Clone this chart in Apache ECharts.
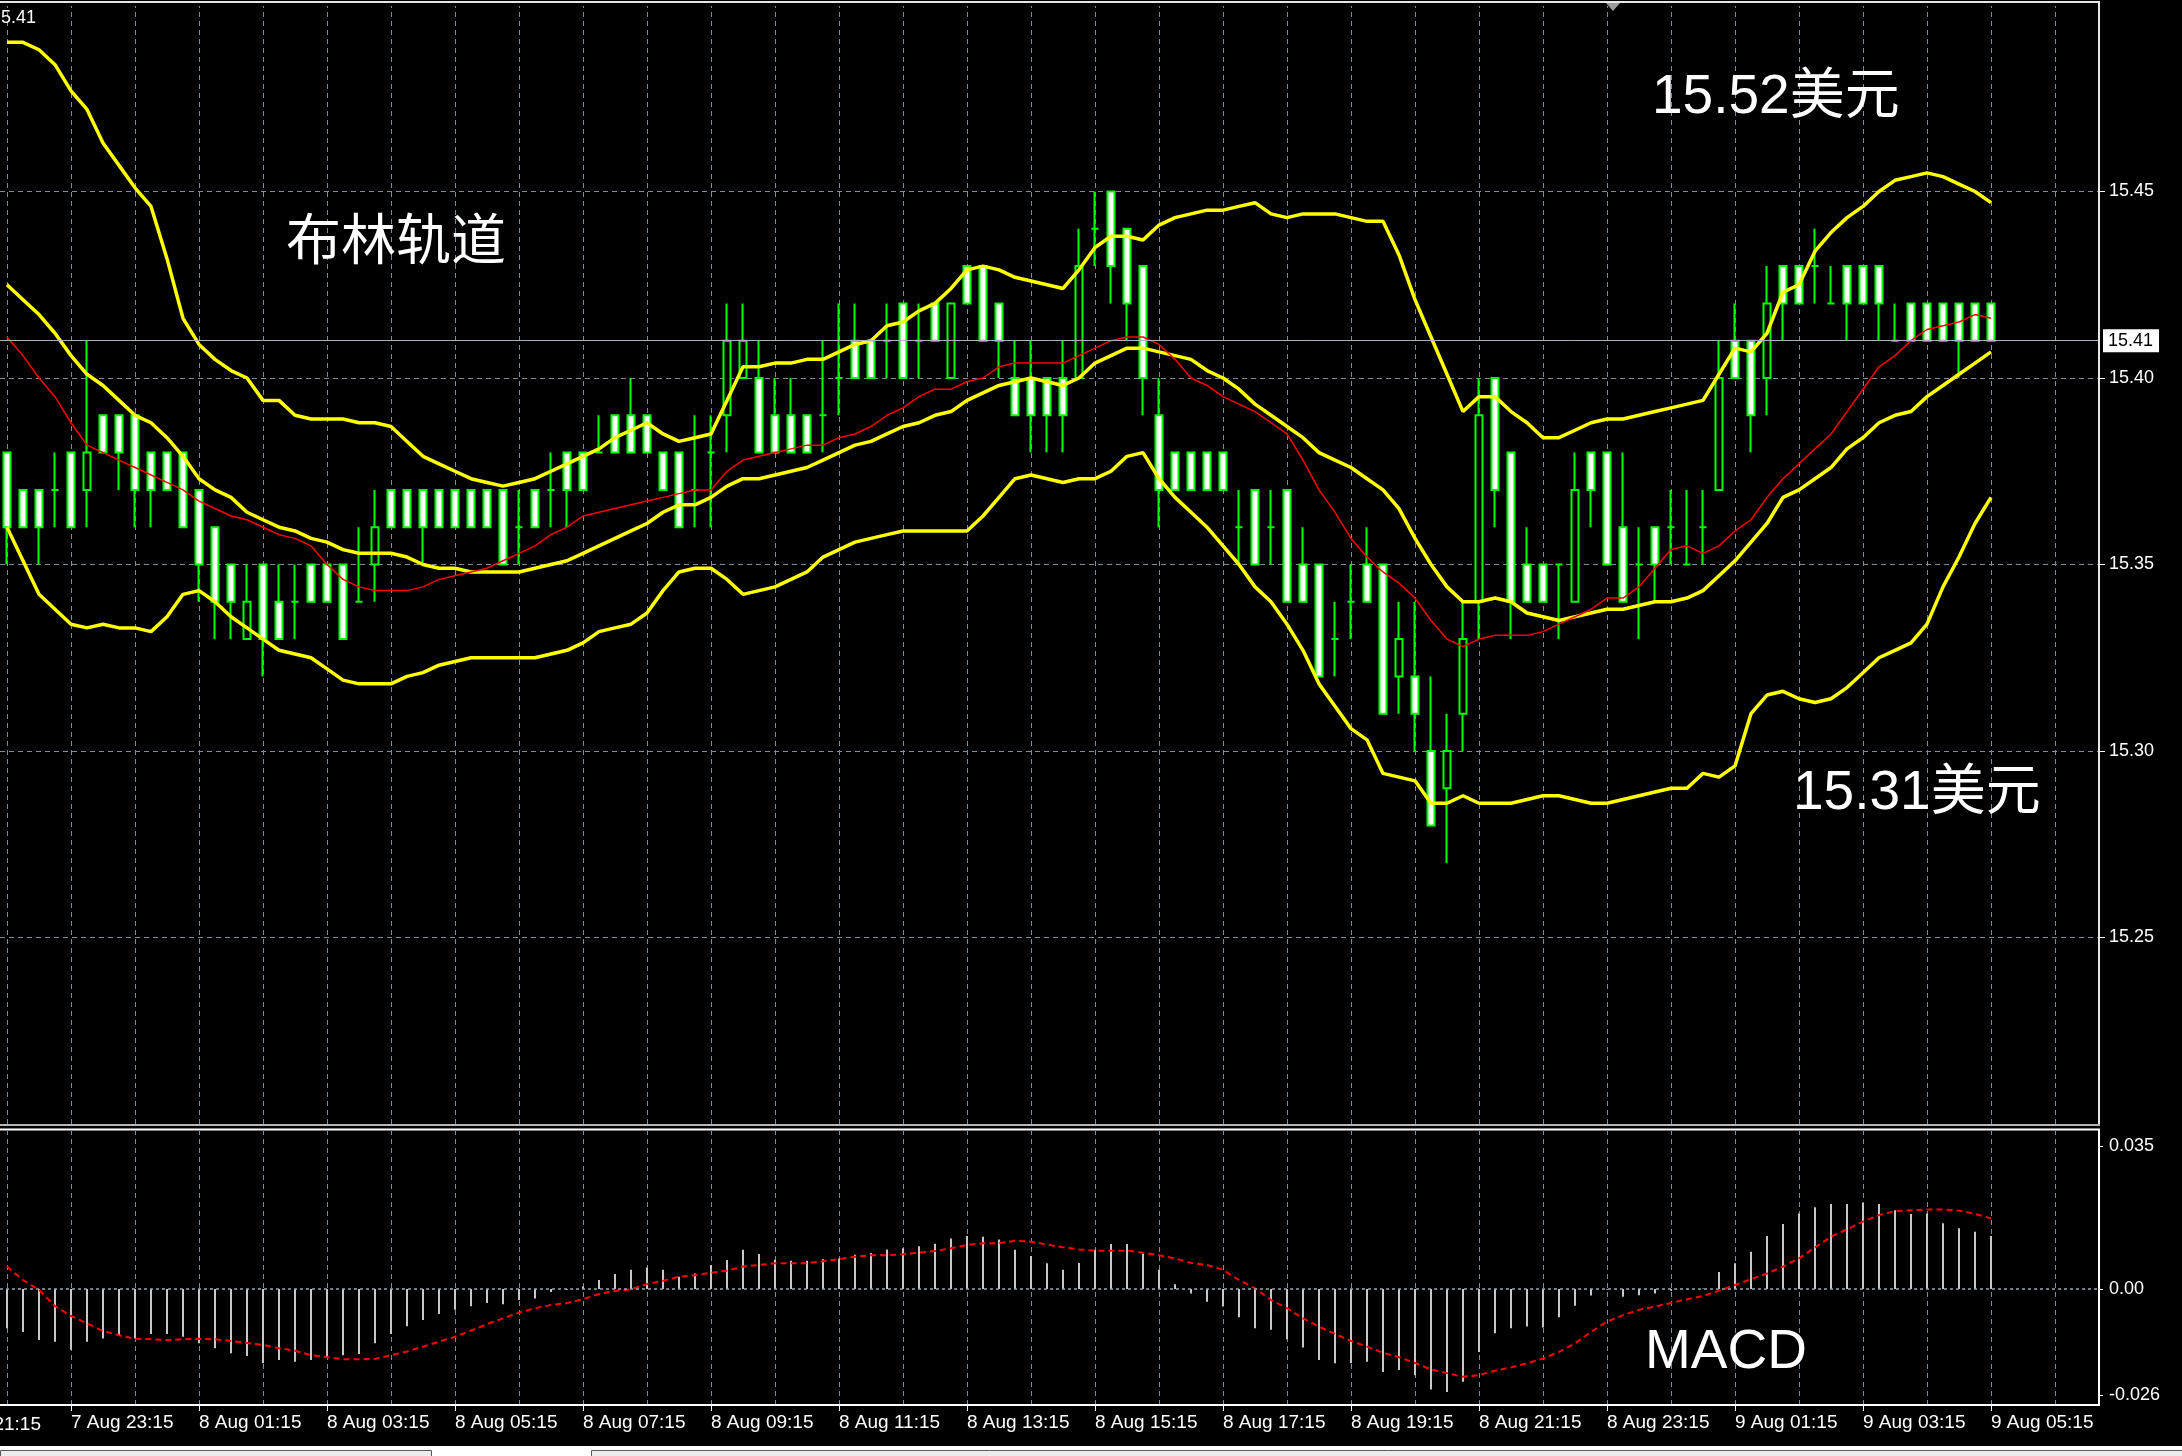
<!DOCTYPE html>
<html><head><meta charset="utf-8">
<script src="https://cdn.jsdelivr.net/npm/echarts@6/dist/echarts.min.js"></script>
<style>html,body{margin:0;padding:0;background:#000;overflow:hidden}#c{width:2182px;height:1456px}</style>
</head><body><div id="c"></div>
<script>
// ---- time axis (M15 bars, index 0 = 7 Aug 22:15) ----
const tickIdx = [4,12,20,28,36,44,52,60,68,76,84,92,100,108,116,124];
const tickLabels = ['7 Aug 23:15','8 Aug 01:15','8 Aug 03:15','8 Aug 05:15','8 Aug 07:15','8 Aug 09:15','8 Aug 11:15','8 Aug 13:15','8 Aug 15:15','8 Aug 17:15','8 Aug 19:15','8 Aug 21:15','8 Aug 23:15','9 Aug 01:15','9 Aug 03:15','9 Aug 05:15'];
const cutLabel = '21:15';           // tail of '7 Aug 21:15', cut by the left edge
const hourIdx = [0,4,8,12,16,20,24,28,32,36,40,44,48,52,56,60,64,68,72,76,80,84,88,92,96,100,104,108,112,116,120,124,128];
const priceTicks = [15.25,15.30,15.35,15.40,15.45];
const macdTicks = [0.035,0,-0.026];
const lastPrice = 15.41;

// ---- candles ----
const openP = [15.38,15.37,15.37,15.37,15.38,15.37,15.39,15.39,15.39,15.38,
15.38,15.38,15.37,15.36,15.35,15.33,15.35,15.34,15.34,15.35,
15.35,15.35,15.34,15.35,15.37,15.37,15.37,15.37,15.37,15.37,
15.37,15.37,15.36,15.37,15.37,15.38,15.38,15.38,15.39,15.39,
15.39,15.38,15.38,15.37,15.38,15.39,15.40,15.40,15.39,15.39,
15.39,15.39,15.40,15.41,15.41,15.41,15.42,15.41,15.42,15.40,
15.43,15.43,15.42,15.40,15.40,15.40,15.40,15.40,15.44,15.45,
15.44,15.43,15.39,15.38,15.38,15.38,15.38,15.36,15.37,15.36,
15.37,15.35,15.35,15.33,15.34,15.35,15.35,15.32,15.32,15.30,
15.29,15.31,15.34,15.40,15.38,15.35,15.35,15.35,15.34,15.38,
15.38,15.36,15.35,15.36,15.36,15.35,15.36,15.37,15.41,15.41,
15.40,15.43,15.43,15.43,15.42,15.43,15.43,15.43,15.41,15.42,
15.42,15.42,15.42,15.42,15.42];
const closeP = [15.36,15.36,15.36,15.37,15.36,15.38,15.38,15.38,15.37,15.37,
15.37,15.36,15.35,15.34,15.34,15.34,15.33,15.33,15.34,15.34,
15.34,15.33,15.34,15.36,15.36,15.36,15.36,15.36,15.36,15.36,
15.36,15.35,15.36,15.36,15.37,15.37,15.37,15.38,15.38,15.38,
15.38,15.37,15.36,15.37,15.38,15.41,15.41,15.38,15.38,15.38,
15.38,15.39,15.40,15.40,15.40,15.41,15.40,15.41,15.41,15.42,
15.42,15.41,15.41,15.39,15.39,15.39,15.39,15.43,15.44,15.43,
15.42,15.40,15.37,15.37,15.37,15.37,15.37,15.36,15.35,15.36,
15.34,15.34,15.32,15.33,15.34,15.34,15.31,15.33,15.31,15.28,
15.30,15.33,15.39,15.37,15.34,15.34,15.34,15.35,15.37,15.37,
15.35,15.34,15.35,15.35,15.36,15.35,15.36,15.40,15.40,15.39,
15.42,15.42,15.42,15.43,15.42,15.42,15.42,15.42,15.41,15.41,
15.41,15.41,15.41,15.41,15.41];
const lowP = [15.35,15.36,15.35,15.36,15.36,15.36,15.38,15.37,15.36,15.36,
15.37,15.36,15.34,15.33,15.33,15.33,15.32,15.33,15.33,15.34,
15.34,15.33,15.34,15.34,15.36,15.36,15.35,15.36,15.36,15.36,
15.36,15.35,15.35,15.36,15.36,15.36,15.37,15.38,15.38,15.38,
15.38,15.37,15.36,15.36,15.36,15.38,15.40,15.38,15.38,15.38,
15.38,15.38,15.39,15.40,15.40,15.40,15.40,15.40,15.41,15.40,
15.42,15.41,15.40,15.39,15.38,15.38,15.38,15.40,15.43,15.42,
15.41,15.39,15.36,15.37,15.37,15.37,15.37,15.35,15.35,15.35,
15.34,15.34,15.32,15.32,15.33,15.34,15.31,15.31,15.30,15.28,
15.27,15.30,15.33,15.36,15.33,15.34,15.34,15.33,15.34,15.36,
15.35,15.34,15.33,15.34,15.35,15.35,15.35,15.37,15.40,15.38,
15.39,15.41,15.42,15.42,15.42,15.41,15.42,15.41,15.41,15.41,
15.41,15.41,15.40,15.41,15.41];
const highP = [15.38,15.37,15.37,15.38,15.38,15.41,15.39,15.39,15.39,15.38,
15.38,15.38,15.37,15.36,15.35,15.35,15.35,15.35,15.35,15.35,
15.35,15.35,15.36,15.37,15.37,15.37,15.37,15.37,15.37,15.37,
15.37,15.37,15.37,15.37,15.38,15.38,15.38,15.39,15.39,15.40,
15.39,15.38,15.38,15.39,15.39,15.42,15.42,15.41,15.40,15.40,
15.39,15.41,15.42,15.42,15.41,15.42,15.42,15.42,15.42,15.42,
15.43,15.43,15.42,15.41,15.41,15.40,15.41,15.44,15.45,15.45,
15.44,15.43,15.40,15.38,15.38,15.38,15.38,15.37,15.37,15.37,
15.37,15.36,15.35,15.34,15.35,15.36,15.35,15.34,15.34,15.32,
15.31,15.34,15.40,15.40,15.38,15.36,15.35,15.35,15.38,15.38,
15.38,15.38,15.36,15.36,15.37,15.37,15.37,15.41,15.42,15.41,
15.43,15.43,15.43,15.44,15.43,15.43,15.43,15.43,15.42,15.42,
15.42,15.42,15.42,15.42,15.42];

// ---- Bollinger bands & red moving average ----
const bbUpper = [15.490,15.490,15.488,15.484,15.477,15.472,15.463,15.457,15.451,15.446,
15.432,15.416,15.409,15.405,15.402,15.400,15.394,15.394,15.390,15.389,
15.389,15.389,15.388,15.388,15.387,15.383,15.379,15.377,15.375,15.373,
15.372,15.371,15.372,15.373,15.375,15.377,15.379,15.381,15.384,15.386,
15.388,15.385,15.383,15.384,15.385,15.394,15.403,15.403,15.404,15.404,
15.405,15.405,15.407,15.409,15.410,15.414,15.415,15.418,15.420,15.424,
15.429,15.430,15.429,15.427,15.426,15.425,15.424,15.429,15.435,15.438,
15.438,15.437,15.441,15.443,15.444,15.445,15.445,15.446,15.447,15.444,
15.443,15.444,15.444,15.444,15.443,15.442,15.442,15.433,15.421,15.411,
15.401,15.391,15.395,15.395,15.391,15.388,15.384,15.384,15.386,15.388,
15.389,15.389,15.390,15.391,15.392,15.393,15.394,15.401,15.408,15.407,
15.412,15.423,15.425,15.434,15.439,15.443,15.446,15.450,15.453,15.454,
15.455,15.454,15.452,15.450,15.447];
const bbMiddle = [15.425,15.421,15.417,15.412,15.406,15.401,15.398,15.394,15.390,15.388,
15.384,15.379,15.373,15.370,15.368,15.364,15.362,15.360,15.359,15.357,
15.356,15.354,15.353,15.353,15.353,15.352,15.350,15.349,15.349,15.348,
15.348,15.348,15.348,15.349,15.350,15.351,15.353,15.355,15.357,15.359,
15.361,15.364,15.366,15.366,15.368,15.371,15.373,15.373,15.374,15.375,
15.376,15.378,15.380,15.382,15.383,15.385,15.387,15.388,15.390,15.391,
15.394,15.396,15.398,15.399,15.400,15.399,15.398,15.400,15.404,15.406,
15.408,15.408,15.407,15.406,15.405,15.402,15.400,15.397,15.393,15.390,
15.387,15.384,15.380,15.378,15.376,15.373,15.370,15.365,15.357,15.350,
15.344,15.340,15.340,15.341,15.340,15.337,15.336,15.335,15.336,15.337,
15.338,15.338,15.339,15.340,15.340,15.341,15.343,15.347,15.351,15.356,
15.361,15.368,15.370,15.373,15.376,15.381,15.384,15.388,15.390,15.391,
15.395,15.398,15.401,15.404,15.407];
const bbLower = [15.360,15.351,15.342,15.338,15.334,15.333,15.334,15.333,15.333,15.332,
15.336,15.342,15.343,15.340,15.336,15.333,15.330,15.327,15.326,15.325,
15.322,15.319,15.318,15.318,15.318,15.320,15.321,15.323,15.324,15.325,
15.325,15.325,15.325,15.325,15.326,15.327,15.329,15.332,15.333,15.334,
15.337,15.343,15.348,15.349,15.349,15.346,15.342,15.343,15.344,15.346,
15.348,15.352,15.354,15.356,15.357,15.358,15.359,15.359,15.359,15.359,
15.359,15.363,15.368,15.373,15.374,15.373,15.372,15.373,15.373,15.375,
15.379,15.380,15.373,15.368,15.364,15.360,15.355,15.350,15.344,15.340,
15.334,15.327,15.318,15.312,15.306,15.303,15.294,15.293,15.292,15.286,
15.286,15.288,15.286,15.286,15.286,15.287,15.288,15.288,15.287,15.286,
15.286,15.287,15.288,15.289,15.290,15.290,15.294,15.293,15.296,15.310,
15.315,15.316,15.314,15.313,15.314,15.317,15.321,15.325,15.327,15.329,
15.334,15.344,15.352,15.361,15.368];
const maRed = [15.411,15.406,15.400,15.395,15.388,15.382,15.380,15.378,15.376,15.374,
15.372,15.370,15.367,15.365,15.363,15.362,15.360,15.358,15.357,15.355,
15.350,15.346,15.344,15.343,15.343,15.343,15.344,15.346,15.347,15.348,
15.349,15.351,15.353,15.355,15.358,15.360,15.363,15.364,15.365,15.366,
15.367,15.368,15.369,15.370,15.370,15.375,15.378,15.379,15.380,15.381,
15.382,15.382,15.384,15.385,15.387,15.390,15.392,15.395,15.397,15.397,
15.399,15.400,15.403,15.404,15.404,15.404,15.404,15.406,15.408,15.410,
15.411,15.411,15.409,15.405,15.400,15.398,15.395,15.393,15.391,15.388,
15.385,15.378,15.370,15.364,15.357,15.352,15.348,15.345,15.341,15.335,
15.330,15.328,15.330,15.331,15.331,15.331,15.332,15.334,15.336,15.338,
15.341,15.341,15.344,15.349,15.354,15.355,15.353,15.355,15.359,15.362,
15.368,15.373,15.377,15.381,15.385,15.391,15.397,15.403,15.406,15.410,
15.413,15.414,15.415,15.417,15.416];

// ---- MACD ----
const macdHist = [-0.0096,-0.0105,-0.0125,-0.0129,-0.0149,-0.0129,-0.0121,-0.0113,-0.0121,-0.0110,
-0.0110,-0.0117,-0.0133,-0.0145,-0.0157,-0.0164,-0.0182,-0.0174,-0.0178,-0.0174,
-0.0166,-0.0162,-0.0159,-0.0133,-0.0110,-0.0091,-0.0076,-0.0061,-0.0051,-0.0042,
-0.0034,-0.0037,-0.0027,-0.0023,-0.0007,-0.0002,0.0006,0.0022,0.0037,0.0047,
0.0053,0.0047,0.0030,0.0038,0.0059,0.0071,0.0096,0.0086,0.0072,0.0069,
0.0069,0.0073,0.0075,0.0084,0.0088,0.0097,0.0100,0.0105,0.0111,0.0124,
0.0130,0.0128,0.0121,0.0096,0.0081,0.0063,0.0047,0.0064,0.0096,0.0110,
0.0110,0.0087,0.0047,0.0012,-0.0011,-0.0031,-0.0043,-0.0069,-0.0096,-0.0100,
-0.0123,-0.0143,-0.0174,-0.0182,-0.0182,-0.0178,-0.0203,-0.0198,-0.0211,-0.0246,
-0.0252,-0.0227,-0.0154,-0.0108,-0.0096,-0.0092,-0.0094,-0.0069,-0.0041,-0.0016,
-0.0002,-0.0019,-0.0015,-0.0011,-0.0004,-0.0001,0.0001,0.0042,0.0063,0.0091,
0.0130,0.0159,0.0185,0.0200,0.0208,0.0208,0.0211,0.0208,0.0193,0.0184,
0.0185,0.0161,0.0149,0.0140,0.0130];
const macdSignal = [0.0055,0.0022,-0.0002,-0.0042,-0.0066,-0.0084,-0.0103,-0.0113,-0.0122,-0.0123,
-0.0125,-0.0123,-0.0122,-0.0123,-0.0127,-0.0132,-0.0137,-0.0145,-0.0151,-0.0162,
-0.0167,-0.0172,-0.0172,-0.0171,-0.0162,-0.0153,-0.0141,-0.0129,-0.0117,-0.0102,
-0.0086,-0.0072,-0.0058,-0.0047,-0.0039,-0.0034,-0.0025,-0.0012,-0.0005,-0.0001,
0.0012,0.0020,0.0030,0.0034,0.0040,0.0045,0.0055,0.0059,0.0063,0.0063,
0.0063,0.0068,0.0073,0.0079,0.0083,0.0083,0.0085,0.0089,0.0093,0.0100,
0.0108,0.0112,0.0112,0.0118,0.0116,0.0109,0.0102,0.0097,0.0094,0.0094,
0.0094,0.0089,0.0083,0.0075,0.0064,0.0059,0.0047,0.0022,0.0002,-0.0027,
-0.0047,-0.0072,-0.0092,-0.0110,-0.0127,-0.0141,-0.0156,-0.0167,-0.0181,-0.0197,
-0.0206,-0.0215,-0.0211,-0.0200,-0.0192,-0.0182,-0.0170,-0.0154,-0.0133,-0.0105,
-0.0080,-0.0064,-0.0051,-0.0043,-0.0034,-0.0025,-0.0017,-0.0004,0.0010,0.0024,
0.0038,0.0055,0.0075,0.0102,0.0128,0.0146,0.0165,0.0181,0.0191,0.0193,
0.0195,0.0195,0.0192,0.0184,0.0173];

// ---- annotation texts ----
const noteBands = '布林轨道';
const noteHigh = '15.52美元';
const noteLow = '15.31美元';
const noteMacd = 'MACD';
const cornerText = '5.41';

const chart = echarts.init(document.getElementById('c'), null, {renderer:'canvas'});
const candles = openP.map((o,i)=>[i,o,closeP[i],lowP[i],highP[i]]);
const pair = arr => arr.map((v,i)=>[i,v]);
const FONT = "'Liberation Sans', Arial, sans-serif";
const GRID = '#7f8d9b';
const X_MIN = -0.4375, X_MAX = 130.75;
const xBase = {type:'value', min:X_MIN, max:X_MAX, axisLine:{show:false, onZero:false}, splitLine:{show:false}};
const yLabel = {color:'#ffffff', fontSize:18, fontFamily:FONT, margin:10};
const txt = (text, x, y, size, fam, align) => ({type:'text', x:x, y:y, z:200, silent:true,
  style:{text:text, fill:'#ffffff', font: size+'px '+fam, align:align||'left', verticalAlign:'middle', textAlign:align||'left', textVerticalAlign:'middle'}});
const ln = (x1,y1,x2,y2,c,w) => ({type:'line', z:150, silent:true, shape:{x1,y1,x2,y2}, style:{stroke:c, lineWidth:w}});
const vGrid = {silent:true, z:1, symbol:['none','none'], animation:false,
  data: hourIdx.map(v=>({xAxis:v})), lineStyle:{color:GRID, type:[5,4], width:1}, label:{show:false}};

chart.setOption({
  backgroundColor:'#000000',
  animation:false,
  grid:[{left:0, right:83, top:5, height:1119},{left:0, right:83, top:1131, height:274}],
  xAxis:[
    Object.assign({}, xBase, {gridIndex:0, axisTick:{show:false}, axisLabel:{show:false}}),
    Object.assign({}, xBase, {gridIndex:1,
      axisTick:{show:true, customValues:tickIdx, length:6, lineStyle:{color:'#ffffff', width:1}},
      axisLabel:{show:true, customValues:tickIdx,
        formatter:v=>{const k=tickIdx.indexOf(Math.round(v)); return k<0?'':tickLabels[k];},
        color:'#ffffff', fontSize:19, fontFamily:FONT, align:'left', margin:8}})
  ],
  yAxis:[
    {type:'value', gridIndex:0, position:'right', min:15.20, max:15.50, interval:0.05,
     axisLine:{show:false, onZero:false},
     axisTick:{show:true, customValues:priceTicks, length:6, lineStyle:{color:'#ffffff'}},
     axisLabel:Object.assign({customValues:priceTicks, formatter:v=>v.toFixed(2)}, yLabel),
     splitLine:{show:true, lineStyle:{color:GRID, type:[5,4], width:1}}},
    {type:'value', gridIndex:1, position:'right', min:-0.0284, max:0.0387,
     axisLine:{show:false, onZero:false},
     axisTick:{show:true, customValues:macdTicks, length:4, lineStyle:{color:'#ffffff'}},
     axisLabel:Object.assign({customValues:macdTicks, formatter:v=> v===0?'0.00':String(v)}, yLabel),
     splitLine:{show:false}}
  ],
  series:[
    {type:'line', xAxisIndex:0, yAxisIndex:0, data:[], z:1, markLine:vGrid},
    {type:'line', xAxisIndex:1, yAxisIndex:1, data:[], z:1, markLine:vGrid},
    {type:'candlestick', xAxisIndex:0, yAxisIndex:0, data:candles, barWidth:8,
     itemStyle:{color:'#000000', color0:'#ffffff', borderColor:'#00ff00', borderColor0:'#00ff00', borderColorDoji:'#00ff00', borderWidth:2},
     markLine:{silent:true, symbol:['none','none'], animation:false,
       data:[{yAxis:lastPrice}],
       lineStyle:{color:'#a9b2bc', type:'solid', width:1},
       label:{show:true, position:'end', distance:4, formatter:()=>lastPrice.toFixed(2),
         backgroundColor:'#ffffff', color:'#000000', padding:[3,6,2,5], fontSize:18, fontFamily:FONT}}},
    {type:'line', xAxisIndex:0, yAxisIndex:0, data:pair(bbUpper), symbol:'none', lineStyle:{color:'#ffff00', width:3.5}},
    {type:'line', xAxisIndex:0, yAxisIndex:0, data:pair(bbMiddle), symbol:'none', lineStyle:{color:'#ffff00', width:3.5}},
    {type:'line', xAxisIndex:0, yAxisIndex:0, data:pair(bbLower), symbol:'none', lineStyle:{color:'#ffff00', width:3.5}},
    {type:'line', xAxisIndex:0, yAxisIndex:0, data:pair(maRed), symbol:'none', lineStyle:{color:'#ff0000', width:1.5}},
    {type:'bar', xAxisIndex:1, yAxisIndex:1, data:pair(macdHist), barWidth:2, itemStyle:{color:'#c8c8c8'},
     markLine:{silent:true, symbol:['none','none'], animation:false, data:[{yAxis:0}],
       lineStyle:{color:'#9ba7b3', type:[3,3], width:1.5}, label:{show:false}}},
    {type:'line', xAxisIndex:1, yAxisIndex:1, data:pair(macdSignal), symbol:'none', lineStyle:{color:'#ff0000', width:2, type:[6,4]}}
  ],
  graphic:{elements:[
    ln(0,5,2097,5,'#000000',2),
    ln(0,2,2100,2,'#e6e6e6',2),
    ln(2099,1,2099,1125,'#e6e6e6',2),
    ln(0,1125,2100,1125,'#b4b4b4',2),
    ln(0,1129.5,2100,1129.5,'#ffffff',2),
    ln(2099,1129,2099,1406,'#ffffff',2),
    ln(0,1405,2100,1405,'#ffffff',2),
    {type:'polygon', z:150, silent:true, shape:{points:[[1606,3],[1620,3],[1613,11]]}, style:{fill:'#9a9a9a'}},
    {type:'rect', z:150, silent:true, shape:{x:0,y:1446,width:2182,height:10}, style:{fill:'#ffffff'}},
    {type:'rect', z:151, silent:true, shape:{x:0.5,y:1450.5,width:431,height:8}, style:{fill:'#ececec', stroke:'#5a5a5a', lineWidth:1}},
    {type:'rect', z:151, silent:true, shape:{x:591.5,y:1450.5,width:1600,height:8}, style:{fill:'#ececec', stroke:'#5a5a5a', lineWidth:1}},
    txt(cornerText, 1, 18, 18, FONT),
    txt(cutLabel, 41, 1425, 19, FONT, 'right'),
    txt(noteBands, 286, 238, 55, "'Noto Sans CJK SC', sans-serif"),
    txt(noteHigh, 1652, 98, 55, "'Liberation Sans', 'Noto Sans CJK SC', sans-serif"),
    txt(noteLow, 1793, 794, 55, "'Liberation Sans', 'Noto Sans CJK SC', sans-serif"),
    txt(noteMacd, 1645, 1353, 55, "'Liberation Sans', sans-serif")
  ]}
});
</script>
</body></html>
